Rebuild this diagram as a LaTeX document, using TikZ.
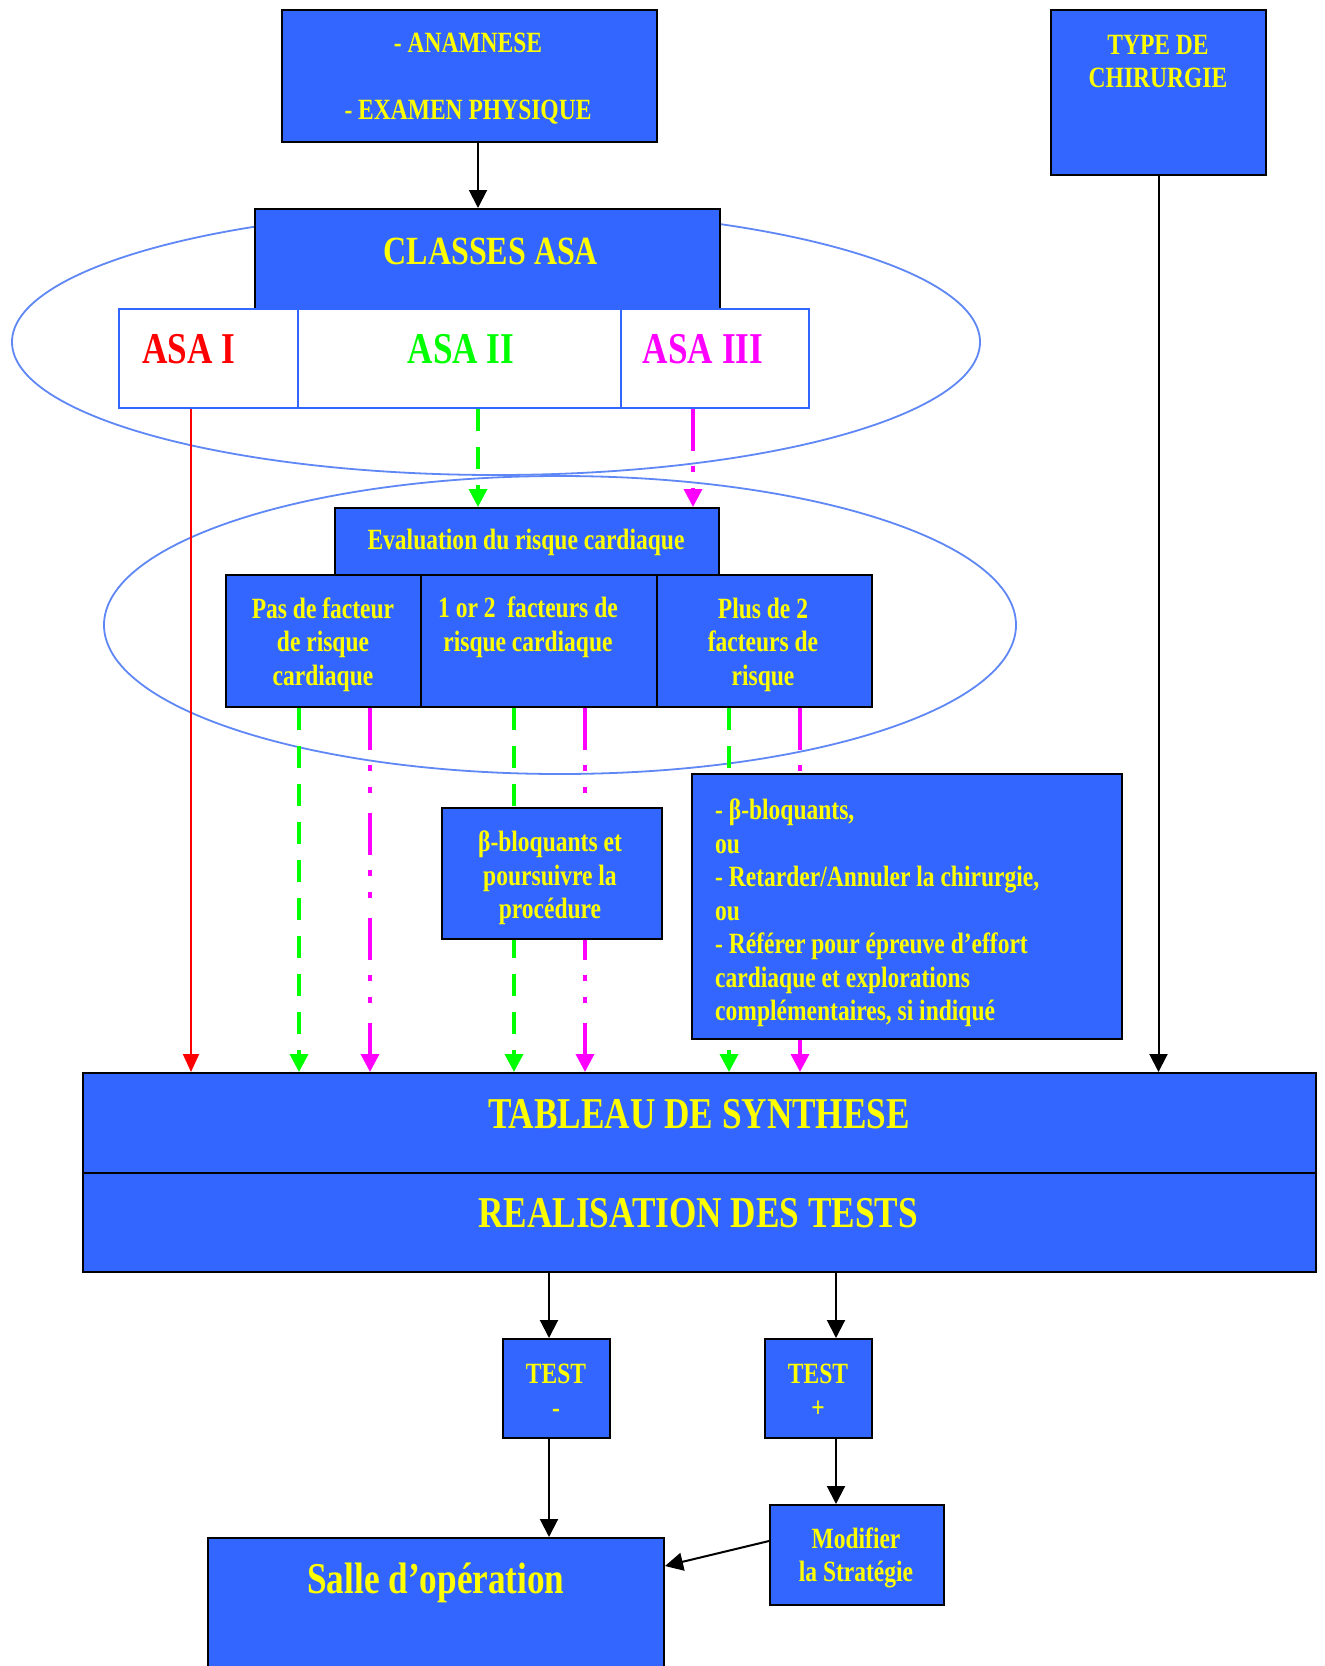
\documentclass[tikz,border=0pt]{standalone}
\usepackage{fontspec}
\setmainfont{Liberation Serif}[FakeStretch=0.8]
\usetikzlibrary{arrows.meta}
\definecolor{boxblue}{HTML}{3366FF}
\definecolor{yel}{HTML}{FFFF00}
\definecolor{ellblue}{HTML}{5F87F5}
\definecolor{asared}{HTML}{FF0000}
\definecolor{asagreen}{HTML}{00FF00}
\definecolor{asamag}{HTML}{FF00FF}
\pgfdeclarelayer{ellayer}
\pgfdeclarelayer{linelayer}
\pgfsetlayers{ellayer,linelayer,main}
\begin{document}
\begin{tikzpicture}[x=1pt,y=-1pt,
  bbox/.style={draw=black,line width=2pt,fill=boxblue,inner sep=0pt},
  wbox/.style={draw=boxblue,line width=2pt,fill=white,inner sep=0pt},
  txt/.style={text=yel,inner sep=0pt,align=center,font=\bfseries\fontsize{29.4}{33.5}\selectfont},
  bigtxt/.style={text=yel,inner sep=0pt,align=center,font=\bfseries\fontsize{44}{50}\selectfont},
  ell/.style={draw=ellblue,line width=1.8pt},
  blk/.style={draw=black,line width=2pt,-{Triangle[length=18pt,width=18pt]}},
  gline/.style={draw=asagreen,line width=3.5pt,dash pattern=on 22pt off 16pt,-{Triangle[length=18pt,width=18pt]}},
  mline/.style={draw=asamag,line width=3.5pt,dash pattern=on 42pt off 15pt on 6pt off 16pt on 6pt off 20pt,-{Triangle[length=18pt,width=18pt]}},
  rline/.style={draw=asared,line width=2pt,-{Triangle[length=18pt,width=16pt]}}
]
\useasboundingbox (0,0) rectangle (1325,1666);

% boxes
\node[bbox,minimum width=375pt,minimum height=132pt] (anam) at (469.5,76) {};
\node[txt] (anamt) at (468,79) {- ANAMNESE\\[33.5pt]- EXAMEN PHYSIQUE};

\node[bbox,minimum width=215pt,minimum height=165pt] (type) at (1158.5,92.5) {};
\node[txt] (typet) at (1158,61.5) {TYPE DE\\CHIRURGIE};

\node[bbox,minimum width=465pt,minimum height=100pt] (classes) at (487.5,259) {};
\node[bigtxt,font=\bfseries\fontsize{40}{46}\selectfont] (classest) at (491,251) {CLASSES ASA};

\node[wbox,minimum width=179pt,minimum height=99pt] (asa1) at (208.5,358.5) {};
\node[wbox,minimum width=323pt,minimum height=99pt] (asa2) at (459.5,358.5) {};
\node[wbox,minimum width=188pt,minimum height=99pt] (asa3) at (715,358.5) {};
\node[bigtxt,text=asared] (asa1t) at (189,349) {ASA I};
\node[bigtxt,text=asagreen] (asa2t) at (461,349) {ASA II};
\node[bigtxt,text=asamag] (asa3t) at (703,349) {ASA III};

\node[bbox,minimum width=384pt,minimum height=67pt] (eval) at (527,541.5) {};
\node[txt] (evalt) at (526,542) {Evaluation du risque cardiaque};

\node[bbox,minimum width=195pt,minimum height=132pt] (r1) at (323.5,641) {};
\node[bbox,minimum width=236pt,minimum height=132pt] (r2) at (539,641) {};
\node[bbox,minimum width=215pt,minimum height=132pt] (r3) at (764.5,641) {};
\node[txt] (r1t) at (323,644.5) {Pas de facteur\\de risque\\cardiaque};
\node[txt] (r2t) at (528,627.5) {1 or 2~~facteurs de\\risque cardiaque};
\node[txt] (r3t) at (763,644.5) {Plus de 2\\facteurs de\\risque};

\node[bbox,minimum width=220pt,minimum height=131pt] (beta) at (552,873.5) {};
\node[txt] (betat) at (550,878) {β-bloquants et\\poursuivre la\\procédure};

\node[bbox,minimum width=430pt,minimum height=265pt] (big) at (907,906.5) {};
\node[txt,align=left,anchor=north west] (bigt) at (715,799) {- β-bloquants,\\ou\\- Retarder/Annuler la chirurgie,\\ou\\- Référer pour épreuve d’effort\\cardiaque et explorations\\complémentaires, si indiqué};

\node[bbox,minimum width=1233pt,minimum height=100pt] (tab) at (699.5,1123) {};
\node[bigtxt] (tabt) at (699,1114) {TABLEAU DE SYNTHESE};
\node[bbox,minimum width=1233pt,minimum height=99pt] (real) at (699.5,1222.5) {};
\node[bigtxt] (realt) at (698,1213) {REALISATION DES TESTS};

\node[bbox,minimum width=107pt,minimum height=99pt] (testm) at (556.5,1388.5) {};
\node[txt] (testmt) at (556,1390.5) {TEST\\-};
\node[bbox,minimum width=107pt,minimum height=99pt] (testp) at (818.5,1388.5) {};
\node[txt] (testpt) at (818,1390.5) {TEST\\+};

\node[bbox,minimum width=174pt,minimum height=100pt] (modif) at (857,1555) {};
\node[txt] (modift) at (856,1558) {Modifier\\la Stratégie};

\node[bbox,minimum width=456pt,minimum height=162pt] (salle) at (436,1619) {};
\node[bigtxt] (sallet) at (436,1583) {Salle d’opération};

% ellipses
\begin{pgfonlayer}{ellayer}
\fill[white] (0,0) rectangle (1325,1666);
\draw[ell] (496,342) ellipse [x radius=484pt, y radius=133pt];
\draw[ell] (560,625) ellipse [x radius=456pt, y radius=149pt];
\end{pgfonlayer}

% connectors
\begin{pgfonlayer}{linelayer}
\draw[rline] (191,0 |- asa1.south) -- (191,0 |- tab.north);
\draw[gline] (478,0 |- asa2.south) -- (478,0 |- eval.north);
\draw[mline] (693,0 |- asa3.south) -- (693,0 |- eval.north);
\draw[gline] (299,0 |- r1.south) -- (299,0 |- tab.north);
\draw[mline] (370,0 |- r1.south) -- (370,0 |- tab.north);
\draw[gline] (514,0 |- r2.south) -- (514,0 |- tab.north);
\draw[mline] (585,0 |- r2.south) -- (585,0 |- tab.north);
\draw[gline] (729,0 |- r3.south) -- (729,0 |- tab.north);
\draw[mline] (800,0 |- r3.south) -- (800,0 |- tab.north);
\end{pgfonlayer}

\draw[blk] (478,0 |- anam.south) -- (478,0 |- classes.north);
\draw[blk] (type.south) -- (type.south |- tab.north);
\draw[blk] (549,0 |- real.south) -- (549,0 |- testm.north);
\draw[blk] (549,0 |- testm.south) -- (549,0 |- salle.north);
\draw[blk] (836,0 |- real.south) -- (836,0 |- testp.north);
\draw[blk] (836,0 |- testp.south) -- (836,0 |- modif.north);
\draw[blk] ([yshift=14pt]modif.west) -- ([yshift=-29pt]salle.north east);
\end{tikzpicture}
\end{document}
